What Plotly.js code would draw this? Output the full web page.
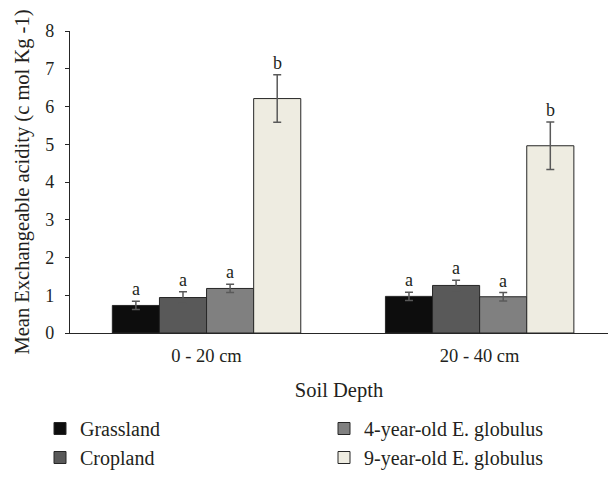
<!DOCTYPE html>
<html>
<head>
<meta charset="utf-8">
<script src="https://cdn.plot.ly/plotly-3.0.1.min.js"></script>
<style>html,body{margin:0;padding:0;background:#fff;}</style>
</head>
<body>
<div id="chart" style="width:608px;height:477px;"></div>
<script>
const depths = ["0 - 20 cm", "20 - 40 cm"];
const seriesNames = ["Grassland", "Cropland", "4-year-old E. globulus", "9-year-old E. globulus"];
const grassland = [0.73, 0.97];
const cropland = [0.94, 1.26];
const euc4 = [1.18, 0.96];
const euc9 = [6.21, 4.96];
const grasslandErr = [0.11, 0.11];
const croplandErr = [0.15, 0.14];
const euc4Err = [0.11, 0.11];
const euc9Err = [0.63, 0.63];
const grasslandLetters = ["a", "a"];
const croplandLetters = ["a", "a"];
const euc4Letters = ["a", "a"];
const euc9Letters = ["b", "b"];

const values = [grassland, cropland, euc4, euc9];
const errs = [grasslandErr, croplandErr, euc4Err, euc9Err];
const letters = [grasslandLetters, croplandLetters, euc4Letters, euc9Letters];
const colors = ["#0d0d0d", "#595959", "#808080", "#eeece1"];
const ranks = [1, 3, 2, 4];
const bargap = 0.31;
const FONT = "Liberation Serif, Times New Roman, serif";

const traces = values.map((v, k) => ({
  type: "bar",
  name: seriesNames[k],
  x: depths,
  y: v,
  legendrank: ranks[k],
  marker: {color: colors[k], line: {color: "#262626", width: 1}},
  error_y: {type: "data", array: errs[k], visible: true, color: "#595959", thickness: 1.5, width: 4}
}));

const annotations = [];
const n = values.length;
const bw = (1 - bargap) / n;
values.forEach((v, k) => {
  v.forEach((val, i) => {
    annotations.push({
      xref: "x", yref: "y",
      x: i + (k - (n - 1) / 2) * bw,
      y: val + errs[k][i],
      text: letters[k][i],
      showarrow: false,
      yanchor: "bottom",
      yshift: 0,
      font: {family: FONT, size: 18, color: "#231f20"}
    });
  });
});

const layout = {
  width: 608, height: 477,
  margin: {l: 70, r: 0, t: 31, b: 143},
  paper_bgcolor: "#fff", plot_bgcolor: "#fff",
  barmode: "group",
  bargap: bargap,
  bargroupgap: 0,
  font: {family: FONT, size: 18, color: "#231f20"},
  showlegend: true,
  legend: {
    orientation: "h",
    x: -0.054, xanchor: "left",
    y: -0.25, yanchor: "top",
    borderwidth: 0,
    entrywidth: 239, entrywidthmode: "pixels",
    font: {family: FONT, size: 20, color: "#231f20"},
    traceorder: "normal"
  },
  xaxis: {
    type: "category",
    range: [-0.5, 1.47],
    showline: true, linecolor: "#262626", linewidth: 1.2,
    ticks: "", showgrid: false, zeroline: false,
    tickfont: {family: FONT, size: 18.5},
    ticklabelstandoff: 6,
    title: {text: "Soil Depth", font: {family: FONT, size: 20.5}, standoff: 17}
  },
  yaxis: {
    range: [0, 8], dtick: 1,
    showline: true, linecolor: "#262626", linewidth: 1.2,
    ticks: "outside", ticklen: 4, tickcolor: "#262626",
    showgrid: false, zeroline: false,
    tickfont: {family: FONT, size: 18},
    ticklabelstandoff: 7,
    title: {text: "Mean Exchangeable acidity (c mol Kg -1)", font: {family: FONT, size: 20.5}, standoff: 10}
  },
  annotations: annotations
};

Plotly.newPlot("chart", traces, layout, {displayModeBar: false, staticPlot: true});
</script>
</body>
</html>
